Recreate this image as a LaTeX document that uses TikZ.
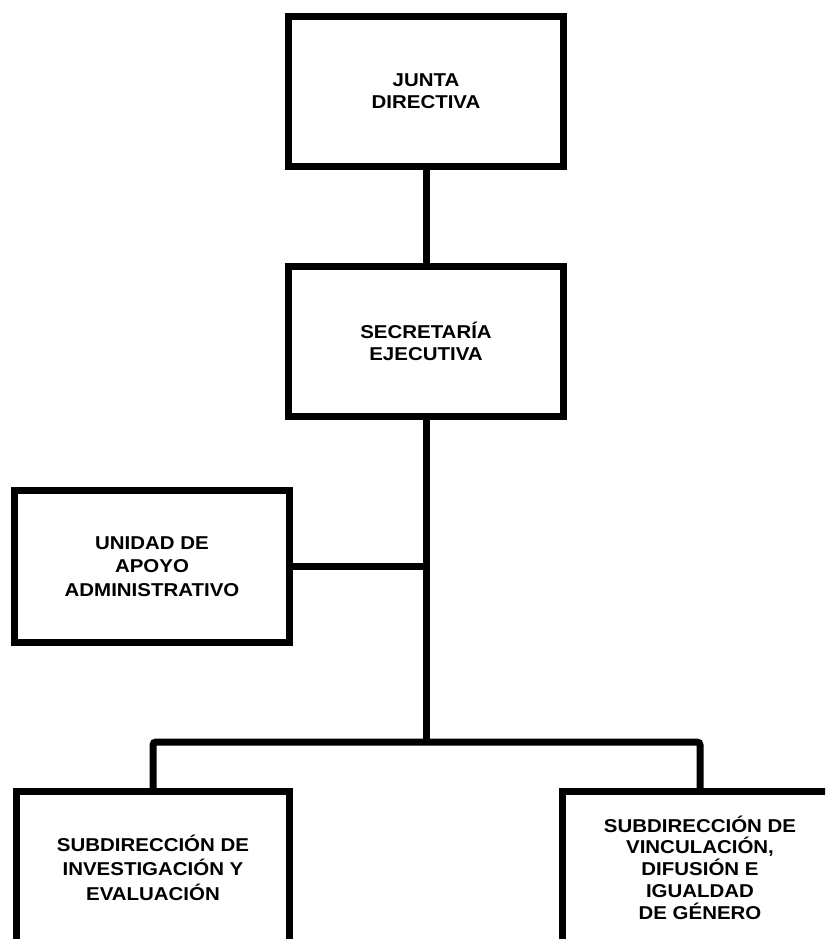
\documentclass[tikz,border=0pt]{standalone}
\usepackage{fontspec}
\setmainfont{Liberation Sans}[FakeStretch=1.1]
\usetikzlibrary{calc}
\tikzstyle{box}=[rectangle,draw=black,fill=white,line width=7pt,align=center,
  minimum width=275pt,minimum height=150pt,font=\fontsize{18.6}{21.7}\selectfont\bfseries]
\tikzstyle{wire}=[draw=black,line width=7pt]

\begin{document}
\begin{tikzpicture}[x=1pt,y=-1pt]
        \useasboundingbox (0,0) rectangle (825,939);
        \clip (0,0) rectangle (825,939);
        \node[style=box] (jd) at (426, 91.5) {JUNTA\\DIRECTIVA};
		\node[style=box] (se) at (426, 341.5) {SECRETARÍA\\EJECUTIVA};
		\node[style=box,minimum height=152pt,font=\fontsize{18.6}{23.3}\selectfont\bfseries] (ua) at (152, 566.5) {UNIDAD DE\\APOYO\\ADMINISTRATIVO};
		\node[style=box,minimum width=273pt,minimum height=152pt,font=\fontsize{18.6}{24.4}\selectfont\bfseries] (si) at (153, 867.5) {SUBDIRECCIÓN DE\\INVESTIGACIÓN Y\\EVALUACIÓN};
		\node[style=box,minimum height=152pt] (sv) at (700, 867.5) {SUBDIRECCIÓN DE\\VINCULACIÓN,\\DIFUSIÓN E\\IGUALDAD\\DE GÉNERO};
		\coordinate (bus) at (426, 742);
        \draw[style=wire] (jd) to (se);
		\draw[style=wire] (se) to (bus);
		\draw[style=wire] (ua) to (ua -| se);
		\draw[style=wire,rounded corners=3pt] (si.north) |- (bus) -| (sv.north);
    \end{tikzpicture}
\end{document}
